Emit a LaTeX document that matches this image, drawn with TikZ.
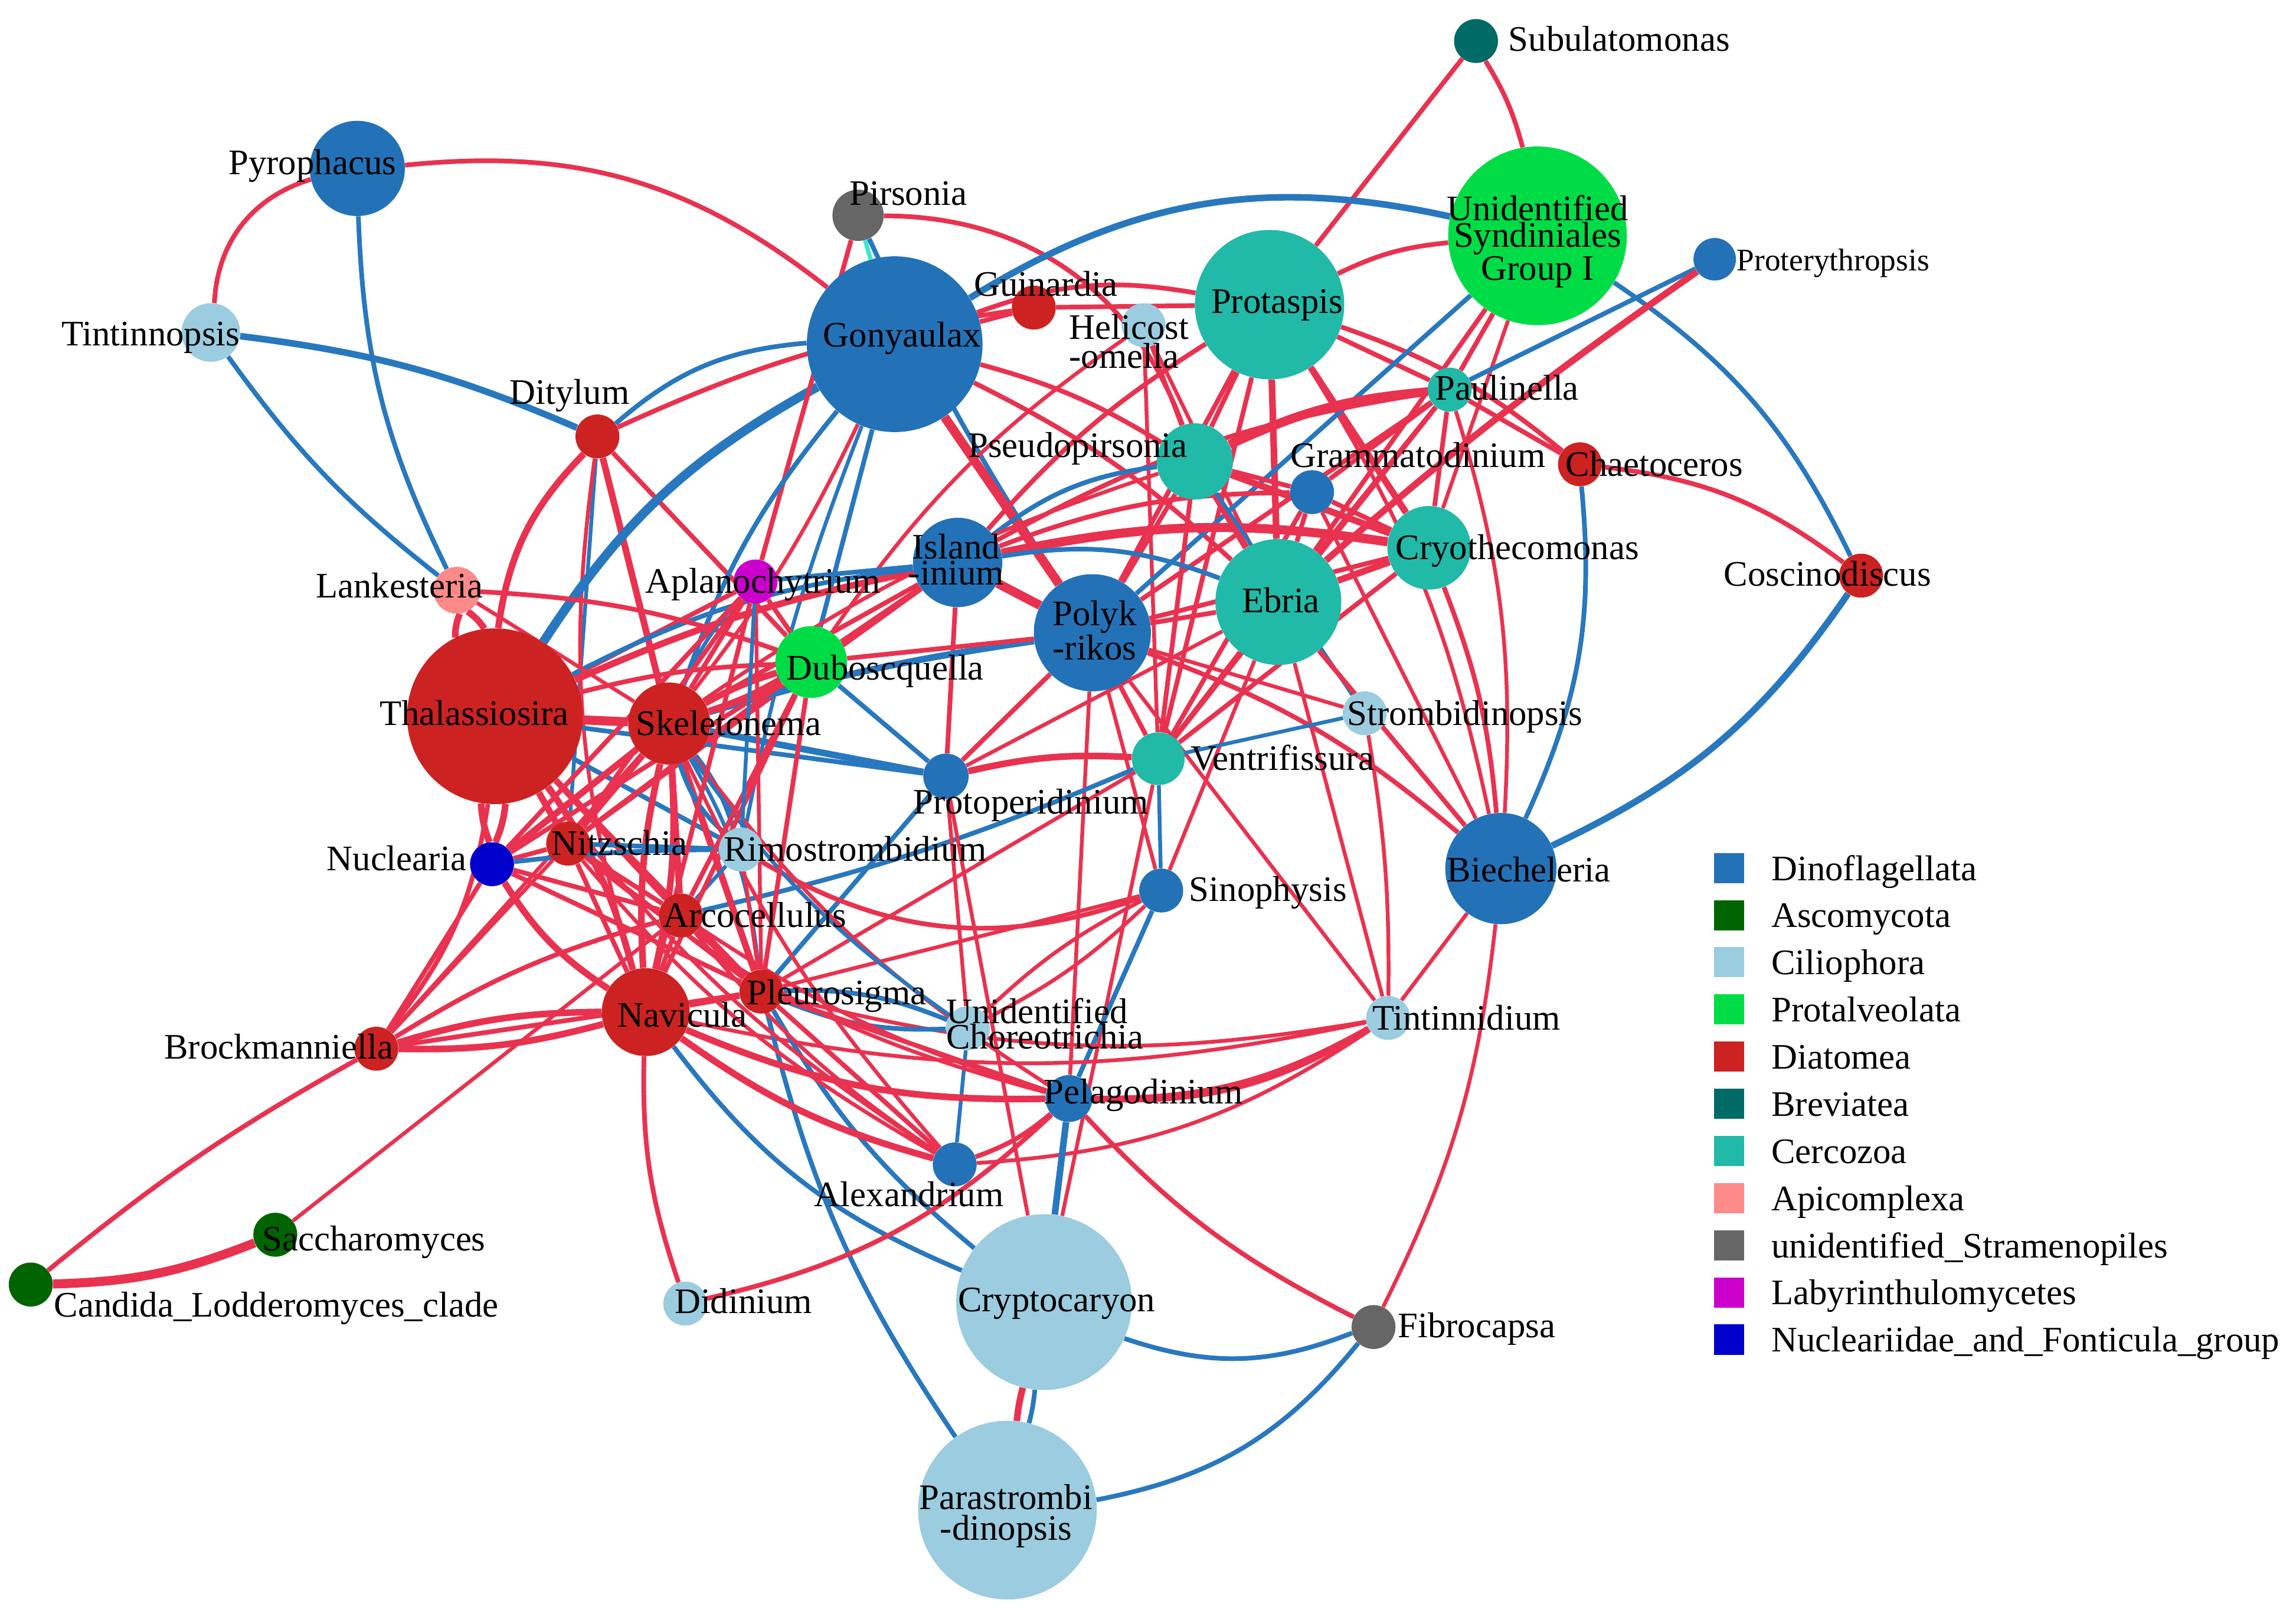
\documentclass[tikz,border=0pt]{standalone}
\usepackage{fontspec}
\setmainfont{Liberation Serif}
\newfontfamily\taxfont{Liberation Serif}
\pgfdeclarelayer{edges}
\pgfsetlayers{edges,main}
\definecolor{dino}{HTML}{2372B8}
\definecolor{asco}{HTML}{006400}
\definecolor{cilio}{HTML}{9BCCDF}
\definecolor{protal}{HTML}{00DC46}
\definecolor{diat}{HTML}{CC2222}
\definecolor{brev}{HTML}{006B66}
\definecolor{cerco}{HTML}{21B9A7}
\definecolor{apic}{HTML}{FF8A8A}
\definecolor{stram}{HTML}{666666}
\definecolor{laby}{HTML}{CC00CC}
\definecolor{nucl}{HTML}{0000CC}
\definecolor{posred}{HTML}{E9324F}
\definecolor{negblue}{HTML}{2878BF}
\definecolor{aqua}{HTML}{3EE6D2}
\tikzset{
  taxon/.style={circle,inner sep=0pt,draw=none},
  tag/.style={inner sep=0pt,text=black,font=\taxfont\fontsize{24.5}{17}\selectfont},
  posedge/.style={draw=posred,line width=3.2pt},
  negedge/.style={draw=negblue,line width=3.2pt},
  fine/.style={line width=2.6pt},
  heavy/.style={line width=4.5pt},
  bold/.style={line width=6.2pt},
  legbox/.style={inner sep=0pt,minimum size=20.6pt,draw=none}
}
\providecommand{\Taxon}[4]{
\node[taxon,fill=#4,minimum size=#3pt] (#1) at (#2) {};
}
\providecommand{\Tag}[3]{
\node[tag,anchor=base west] (#1-tag) at (#2) {#3};
}
\providecommand{\Pos}[3][]{
\draw[posedge,#1] (#2) to (#3);
}
\providecommand{\Neg}[3][]{
\draw[negedge,#1] (#2) to (#3);
}
\providecommand{\Legend}[4]{
\node[legbox,fill=#2] (#1-box) at (1181,{592.6+32.2*#3}) {};
\node[tag,anchor=base west] (#1-key) at (1209.6,{601+32.2*#3}) {#4};
}
\begin{document}
\begin{tikzpicture}[x=1pt,y=-1pt]
\useasboundingbox (0,0) rectangle (1568,1099);
\Taxon{Subulatomonas}{1008,28}{30}{brev}\Taxon{Syndiniales}{1050,161}{122}{protal}\Taxon{Proterythropsis}{1171,177}{29}{dino}
\Taxon{Pyrophacus}{244,115}{65}{dino}\Taxon{Pirsonia}{586,147}{35}{stram}\Taxon{Gonyaulax}{611,235}{120}{dino}
\Taxon{Guinardia}{706,210}{30}{diat}\Taxon{Helicostomella}{781,222}{30}{cilio}\Taxon{Protaspis}{867,208}{102}{cerco}
\Taxon{Tintinnopsis}{144,227}{40}{cilio}\Taxon{Paulinella}{990,266}{30}{cerco}\Taxon{Ditylum}{408,298}{30}{diat}
\Taxon{Pseudopirsonia}{816,315}{52}{cerco}\Taxon{Grammatodinium}{896,336}{30}{dino}\Taxon{Chaetoceros}{1079,317}{30}{diat}
\Taxon{Cryothecomonas}{976,374}{57}{cerco}\Taxon{Islandinium}{654,384}{61}{dino}\Taxon{Lankesteria}{312,403}{32}{apic}
\Taxon{Aplanochytrium}{516,397}{30}{laby}\Taxon{Ebria}{873,411}{86}{cerco}\Taxon{Coscinodiscus}{1271,393}{30}{diat}
\Taxon{Polykrikos}{746,432}{80}{dino}\Taxon{Duboscquella}{554,452}{49}{protal}\Taxon{Thalassiosira}{338,489}{120}{diat}
\Taxon{Skeletonema}{457,494}{56}{diat}\Taxon{Strombidinopsis}{932,487}{30}{cilio}\Taxon{Ventrifissura}{791,518}{36}{cerco}
\Taxon{Protoperidinium}{646,530}{31}{dino}\Taxon{Nuclearia}{336,590}{30}{nucl}\Taxon{Nitzschia}{388,576}{30}{diat}
\Taxon{Rimostrombidium}{506,580}{30}{cilio}\Taxon{Biecheleria}{1025,593}{76}{dino}\Taxon{Sinophysis}{793,608}{30}{dino}
\Taxon{Arcocellulus}{465,625}{30}{diat}\Taxon{Pleurosigma}{520,677}{30}{diat}\Taxon{Navicula}{441,691}{60}{diat}
\Taxon{Brockmanniella}{257,716}{30}{diat}\Taxon{Choreotrichia}{661,702}{30}{cilio}\Taxon{Tintinnidium}{948,695}{30}{cilio}
\Taxon{Pelagodinium}{730,750}{32}{dino}\Taxon{Alexandrium}{652,795}{30}{dino}\Taxon{Saccharomyces}{188,843}{30}{asco}
\Taxon{Candida}{21,877}{30}{asco}\Taxon{Didinium}{468,890}{30}{cilio}\Taxon{Cryptocaryon}{713,889}{120}{cilio}
\Taxon{Fibrocapsa}{938,906}{30}{stram}\Taxon{Parastrombidinopsis}{688,1031}{122}{cilio}
\begin{pgfonlayer}{edges}
\Pos[bend right=35]{Pyrophacus}{Tintinnopsis}\Neg[bend right=12]{Pyrophacus}{Lankesteria}\Pos[bend left=22]{Pyrophacus}{Gonyaulax}
\Neg[heavy,bend left=8]{Tintinnopsis}{Ditylum}\Neg[bend right=8]{Tintinnopsis}{Lankesteria}
\Neg[bend left=18]{Ditylum}{Gonyaulax}\Pos[bend left=8]{Ditylum}{Guinardia}\Pos[heavy,bend right=18]{Ditylum}{Thalassiosira}
\Pos[heavy]{Ditylum}{Skeletonema}\Pos{Ditylum}{Duboscquella}\Neg[fine]{Ditylum}{Nitzschia}\Pos[fine,bend right=12]{Ditylum}{Navicula}
\Neg[bold,bend left=14]{Thalassiosira}{Gonyaulax}
\draw[draw=aqua,line width=3pt] (Pirsonia) -- (Gonyaulax);
\Neg[bend right=4]{Pirsonia}{Polykrikos}\Pos{Pirsonia}{Aplanochytrium}\Pos[bend left=35]{Pirsonia}{Pseudopirsonia}
\Pos{Subulatomonas}{Protaspis}\Pos[bend left=8]{Subulatomonas}{Syndiniales}
\Neg[heavy,bend left=22]{Gonyaulax}{Syndiniales}\Pos{Gonyaulax}{Guinardia}\Pos{Guinardia}{Protaspis}
\Pos[bend left=15]{Gonyaulax}{Protaspis}\Pos[bend left=8]{Gonyaulax}{Ebria}\Pos[bend left=8]{Gonyaulax}{Pseudopirsonia}
\Pos[bold]{Gonyaulax}{Polykrikos}\Neg[bend right=10]{Gonyaulax}{Skeletonema}\Neg{Gonyaulax}{Duboscquella}
\Neg[fine,bend right=5]{Gonyaulax}{Rimostrombidium}\Pos[fine,bend left=6]{Gonyaulax}{Skeletonema}
\Pos[fine,bend right=10]{Helicostomella}{Duboscquella}\Pos[fine]{Helicostomella}{Pseudopirsonia}\Pos[fine]{Helicostomella}{Ebria}
\Pos[fine]{Helicostomella}{Ventrifissura}
\Pos[bend left=10]{Protaspis}{Syndiniales}\Pos{Protaspis}{Paulinella}\Pos[bend left=10]{Protaspis}{Chaetoceros}
\Pos[heavy]{Protaspis}{Cryothecomonas}\Pos[heavy]{Protaspis}{Ebria}\Pos{Protaspis}{Pseudopirsonia}\Pos{Protaspis}{Polykrikos}
\Pos{Protaspis}{Ventrifissura}\Pos[bend right=8]{Protaspis}{Islandinium}\Pos[fine,bend left=10]{Protaspis}{Biecheleria}
\Pos{Syndiniales}{Paulinella}\Neg[bend left=15]{Syndiniales}{Coscinodiscus}\Neg{Syndiniales}{Polykrikos}
\Pos{Syndiniales}{Ebria}\Pos[fine]{Syndiniales}{Cryothecomonas}
\Neg{Proterythropsis}{Paulinella}\Pos[heavy,bend right=3]{Proterythropsis}{Ebria}
\Pos[bend left=15]{Chaetoceros}{Coscinodiscus}\Neg[bend left=15]{Chaetoceros}{Biecheleria}\Neg[heavy,bend left=15]{Coscinodiscus}{Biecheleria}
\Pos[bold,bend right=10]{Paulinella}{Pseudopirsonia}\Pos{Paulinella}{Ebria}\Pos{Paulinella}{Cryothecomonas}\Pos{Paulinella}{Ventrifissura}
\Pos[fine,bend left=10]{Paulinella}{Biecheleria}\Pos[bend right=10]{Paulinella}{Islandinium}\Pos{Paulinella}{Grammatodinium}
\Pos{Paulinella}{Polykrikos}\Pos{Paulinella}{Chaetoceros}
\Pos{Grammatodinium}{Pseudopirsonia}\Pos{Grammatodinium}{Ebria}\Pos{Grammatodinium}{Cryothecomonas}
\Pos[bend right=10]{Grammatodinium}{Islandinium}\Pos{Grammatodinium}{Ventrifissura}\Pos[fine]{Grammatodinium}{Biecheleria}
\Pos[heavy]{Cryothecomonas}{Pseudopirsonia}\Pos[heavy]{Cryothecomonas}{Ebria}\Pos[bold,bend right=10]{Cryothecomonas}{Islandinium}
\Pos{Cryothecomonas}{Ventrifissura}\Pos[bend left=8]{Cryothecomonas}{Biecheleria}\Pos{Cryothecomonas}{Polykrikos}
\Pos[heavy]{Pseudopirsonia}{Ebria}\Neg[bend right=15]{Pseudopirsonia}{Islandinium}\Neg[fine]{Pseudopirsonia}{Strombidinopsis}
\Pos{Pseudopirsonia}{Ventrifissura}\Pos{Pseudopirsonia}{Polykrikos}\Pos[fine,bend right=8]{Pseudopirsonia}{Skeletonema}
\Pos{Ebria}{Ventrifissura}\Neg[bend right=15]{Ebria}{Islandinium}\Pos{Ebria}{Polykrikos}
\Pos[fine]{Ebria}{Sinophysis}\Pos[fine]{Ebria}{Protoperidinium}\Pos{Ebria}{Biecheleria}\Pos[fine]{Ebria}{Tintinnidium}
\Pos[bold]{Islandinium}{Polykrikos}\Pos{Islandinium}{Protoperidinium}\Pos[heavy,bend right=6]{Islandinium}{Thalassiosira}
\Pos{Islandinium}{Skeletonema}\Pos{Islandinium}{Nitzschia}\Neg{Islandinium}{Aplanochytrium}
\Neg[heavy,bend right=4]{Polykrikos}{Skeletonema}\Pos{Polykrikos}{Protoperidinium}\Pos{Polykrikos}{Ventrifissura}
\Pos[bend left=10]{Polykrikos}{Biecheleria}\Pos[fine]{Polykrikos}{Tintinnidium}\Pos[fine]{Polykrikos}{Sinophysis}
\Pos[fine]{Polykrikos}{Pelagodinium}\Pos[fine]{Polykrikos}{Strombidinopsis}
\Neg[fine]{Ventrifissura}{Strombidinopsis}\Neg[fine]{Ventrifissura}{Sinophysis}\Neg[bend left=5]{Ventrifissura}{Arcocellulus}
\Pos[heavy,bend right=8]{Ventrifissura}{Protoperidinium}\Pos[fine]{Ventrifissura}{Cryptocaryon}\Pos[fine]{Ventrifissura}{Pleurosigma}
\Neg{Protoperidinium}{Duboscquella}\Neg[heavy]{Protoperidinium}{Skeletonema}\Neg{Protoperidinium}{Thalassiosira}
\Neg{Protoperidinium}{Pleurosigma}\Pos[fine]{Protoperidinium}{Cryptocaryon}\Pos[fine]{Protoperidinium}{Choreotrichia}
\Pos[bend left=25]{Sinophysis}{Rimostrombidium}\Pos[fine]{Sinophysis}{Pleurosigma}\Neg{Sinophysis}{Pelagodinium}
\Pos[fine,bend left=8]{Sinophysis}{Choreotrichia}\Pos[fine,bend right=8]{Sinophysis}{Choreotrichia}
\Pos[fine,bend left=5]{Strombidinopsis}{Tintinnidium}\Pos[fine]{Tintinnidium}{Biecheleria}
\Pos[heavy,bend left=15]{Tintinnidium}{Pelagodinium}\Pos[fine,bend left=17]{Tintinnidium}{Pelagodinium}\Pos[fine,bend left=15]{Tintinnidium}{Alexandrium}
\Pos[fine,bend left=12]{Tintinnidium}{Pleurosigma}\Pos[fine,bend left=12]{Tintinnidium}{Navicula}
\Pos[fine,bend left=10]{Biecheleria}{Fibrocapsa}\Pos[bend right=10]{Pelagodinium}{Fibrocapsa}
\Neg[bend right=20]{Cryptocaryon}{Fibrocapsa}\Neg[bend right=20]{Parastrombidinopsis}{Fibrocapsa}
\Pos[heavy,bend right=4]{Cryptocaryon}{Parastrombidinopsis}\Neg[bend left=4]{Cryptocaryon}{Parastrombidinopsis}
\Neg[heavy]{Cryptocaryon}{Pelagodinium}\Neg[bend left=10]{Cryptocaryon}{Pleurosigma}\Neg[bend left=15]{Cryptocaryon}{Navicula}
\Neg[bend left=10]{Parastrombidinopsis}{Pleurosigma}
\Pos[bend left=10]{Didinium}{Navicula}\Pos[bend right=15]{Didinium}{Pelagodinium}
\Pos[bend right=10]{Alexandrium}{Pelagodinium}\Neg[fine]{Alexandrium}{Choreotrichia}
\Neg[bend left=12]{Choreotrichia}{Pleurosigma}\Neg[bend right=12]{Choreotrichia}{Pleurosigma}
\Pos[bold,bend right=10]{Candida}{Saccharomyces}\Pos[bend left=5]{Candida}{Brockmanniella}\Pos[fine]{Saccharomyces}{Arcocellulus}
\Pos[bold]{Thalassiosira}{Skeletonema}\Pos[heavy,bend left=10]{Thalassiosira}{Lankesteria}\Pos[heavy,bend right=10]{Thalassiosira}{Lankesteria}
\Pos[heavy]{Thalassiosira}{Nitzschia}\Pos[heavy,bend left=8]{Thalassiosira}{Nuclearia}\Pos[heavy,bend right=8]{Thalassiosira}{Nuclearia}
\Pos[heavy,bend left=10]{Thalassiosira}{Navicula}\Pos{Thalassiosira}{Arcocellulus}\Pos{Thalassiosira}{Pleurosigma}
\Pos{Thalassiosira}{Aplanochytrium}\Pos[bend left=6]{Thalassiosira}{Duboscquella}\Pos[bend right=15]{Brockmanniella}{Thalassiosira}
\Neg{Thalassiosira}{Rimostrombidium}\Neg[bend left=10]{Thalassiosira}{Islandinium}\Pos[fine,bend right=10]{Thalassiosira}{Alexandrium}
\Pos[bend left=8]{Lankesteria}{Duboscquella}\Pos[fine]{Lankesteria}{Skeletonema}
\Pos[heavy]{Skeletonema}{Nitzschia}\Pos[heavy]{Skeletonema}{Nuclearia}\Pos[heavy,bend left=8]{Skeletonema}{Navicula}
\Pos[heavy,bend right=8]{Skeletonema}{Navicula}\Pos[heavy]{Skeletonema}{Arcocellulus}\Pos[heavy]{Skeletonema}{Pleurosigma}
\Pos[fine]{Skeletonema}{Brockmanniella}\Pos{Skeletonema}{Aplanochytrium}\Neg[fine,bend left=10]{Skeletonema}{Aplanochytrium}
\Pos[heavy,bend left=6]{Skeletonema}{Duboscquella}\Pos[heavy,bend right=6]{Skeletonema}{Duboscquella}
\Neg[bend right=15]{Skeletonema}{Rimostrombidium}\Neg[bend left=10]{Skeletonema}{Rimostrombidium}\Neg[fine,bend left=12]{Skeletonema}{Pleurosigma}
\Pos[fine,bend right=10]{Skeletonema}{Pelagodinium}\Pos[fine,bend right=8]{Skeletonema}{Alexandrium}\Neg[fine,bend right=10]{Skeletonema}{Choreotrichia}
\Pos{Nitzschia}{Nuclearia}\Pos{Nitzschia}{Navicula}\Pos{Nitzschia}{Arcocellulus}\Pos{Nitzschia}{Pleurosigma}
\Neg{Nitzschia}{Rimostrombidium}\Pos{Nitzschia}{Aplanochytrium}\Pos{Nitzschia}{Duboscquella}
\Pos[fine,bend right=12]{Nitzschia}{Pelagodinium}\Pos[fine,bend right=10]{Nitzschia}{Alexandrium}
\Neg[bend left=3]{Nuclearia}{Rimostrombidium}\Pos[heavy,bend right=12]{Nuclearia}{Navicula}\Pos{Nuclearia}{Arcocellulus}
\Pos{Nuclearia}{Pleurosigma}\Pos{Nuclearia}{Brockmanniella}\Pos{Nuclearia}{Aplanochytrium}\Pos{Nuclearia}{Duboscquella}
\Neg[fine]{Arcocellulus}{Rimostrombidium}\Pos{Arcocellulus}{Navicula}\Pos{Arcocellulus}{Pleurosigma}
\Pos[bend left=8]{Brockmanniella}{Arcocellulus}\Pos[fine,bend right=8]{Arcocellulus}{Pelagodinium}\Pos[fine,bend right=8]{Arcocellulus}{Alexandrium}
\Pos{Arcocellulus}{Duboscquella}
\Pos[heavy]{Pleurosigma}{Navicula}\Pos{Pleurosigma}{Pelagodinium}\Pos{Pleurosigma}{Alexandrium}\Pos[fine]{Pleurosigma}{Rimostrombidium}
\Pos{Brockmanniella}{Pleurosigma}\Pos{Pleurosigma}{Duboscquella}\Pos[fine]{Pleurosigma}{Aplanochytrium}
\Pos[heavy,bend left=8]{Brockmanniella}{Navicula}\Pos[heavy,bend right=8]{Brockmanniella}{Navicula}\Pos[fine]{Brockmanniella}{Nitzschia}
\Pos[heavy,bend right=12]{Navicula}{Pelagodinium}\Pos[heavy,bend right=10]{Navicula}{Alexandrium}
\Pos{Navicula}{Aplanochytrium}\Pos{Navicula}{Duboscquella}
\Pos{Aplanochytrium}{Duboscquella}\Neg[fine]{Aplanochytrium}{Rimostrombidium}\Pos{Duboscquella}{Islandinium}\Pos{Duboscquella}{Polykrikos}
\end{pgfonlayer}
\Tag{Subulatomonas}{1030,35}{Subulatomonas}
\node[tag,font=\taxfont\fontsize{21.5}{17}\selectfont,anchor=base west] (Proterythropsis-tag) at (1186,185) {Proterythropsis};
\node[tag,align=center] (Syndiniales-tag) at (1050,165) {Unidentified\\Syndiniales\\Group I};
\Tag{Pyrophacus}{156,119}{Pyrophacus}\Tag{Tintinnopsis}{42,236}{Tintinnopsis}\Tag{Ditylum}{348,276}{Ditylum}
\Tag{Pirsonia}{580,140}{Pirsonia}\Tag{Gonyaulax}{562,237}{Gonyaulax}\Tag{Guinardia}{665,202}{Guinardia}\Tag{Protaspis}{827,214}{Protaspis}
\node[tag,align=left,anchor=west,font=\taxfont\fontsize{24.5}{20}\selectfont] (Helicostomella-tag) at (730,233) {Helicost\\-omella};
\Tag{Paulinella}{980,273}{Paulinella}\Tag{Pseudopirsonia}{661,312}{Pseudopirsonia}\Tag{Grammatodinium}{881,319}{Grammatodinium}
\Tag{Chaetoceros}{1069,325}{Chaetoceros}\Tag{Cryothecomonas}{953,382}{Cryothecomonas}\Tag{Coscinodiscus}{1177,400}{Coscinodiscus}
\node[tag,align=center,font=\taxfont\fontsize{24.5}{18}\selectfont] (Islandinium-tag) at (653,382) {Island\\-inium};
\node[tag,align=center,font=\taxfont\fontsize{24.5}{21.5}\selectfont] (Polykrikos-tag) at (747.5,430.5) {Polyk\\-rikos};
\Tag{Lankesteria}{215.5,408}{Lankesteria}\Tag{Aplanochytrium}{440.5,405}{Aplanochytrium}\Tag{Ebria}{848,418}{Ebria}
\Tag{Duboscquella}{537,464}{Duboscquella}\Tag{Thalassiosira}{259,495}{Thalassiosira}\Tag{Skeletonema}{434,502}{Skeletonema}
\Tag{Strombidinopsis}{920,495}{Strombidinopsis}\Tag{Ventrifissura}{813,526}{Ventrifissura}\Tag{Protoperidinium}{623.5,555.5}{Protoperidinium}
\Tag{Nuclearia}{223,594.5}{Nuclearia}\Tag{Nitzschia}{376.5,584}{Nitzschia}\Tag{Rimostrombidium}{494,588}{Rimostrombidium}
\Tag{Arcocellulus}{452.6,633}{Arcocellulus}\Tag{Biecheleria}{988,602}{Biecheleria}\Tag{Sinophysis}{812,615.5}{Sinophysis}
\Tag{Pleurosigma}{510,686}{Pleurosigma}\Tag{Navicula}{421.6,701}{Navicula}\Tag{Brockmanniella}{112,723}{Brockmanniella}
\node[tag,align=left,anchor=west,font=\taxfont\fontsize{24.5}{17.3}\selectfont] (Choreotrichia-tag) at (646,699) {Unidentified\\Choreotrichia};
\Tag{Tintinnidium}{937,703}{Tintinnidium}\Tag{Pelagodinium}{712.6,753.5}{Pelagodinium}\Tag{Alexandrium}{556,823.5}{Alexandrium}
\Tag{Saccharomyces}{179,854}{Saccharomyces}\Tag{Candida}{36.8,899}{Candida\_Lodderomyces\_clade}\Tag{Didinium}{460.6,896.5}{Didinium}
\Tag{Cryptocaryon}{654,895.4}{Cryptocaryon}\Tag{Fibrocapsa}{954.5,913}{Fibrocapsa}
\node[tag,align=center,font=\taxfont\fontsize{24.5}{21}\selectfont] (Parastrombidinopsis-tag) at (687,1035) {Parastrombi\\-dinopsis};
\Legend{dino}{dino}{0}{Dinoflagellata}\Legend{asco}{asco}{1}{Ascomycota}\Legend{cilio}{cilio}{2}{Ciliophora}
\Legend{protal}{protal}{3}{Protalveolata}\Legend{diat}{diat}{4}{Diatomea}\Legend{brev}{brev}{5}{Breviatea}
\Legend{cerco}{cerco}{6}{Cercozoa}\Legend{apic}{apic}{7}{Apicomplexa}\Legend{stram}{stram}{8}{unidentified\_Stramenopiles}
\Legend{laby}{laby}{9}{Labyrinthulomycetes}\Legend{nucl}{nucl}{10}{Nucleariidae\_and\_Fonticula\_group}
\end{tikzpicture}
\end{document}
